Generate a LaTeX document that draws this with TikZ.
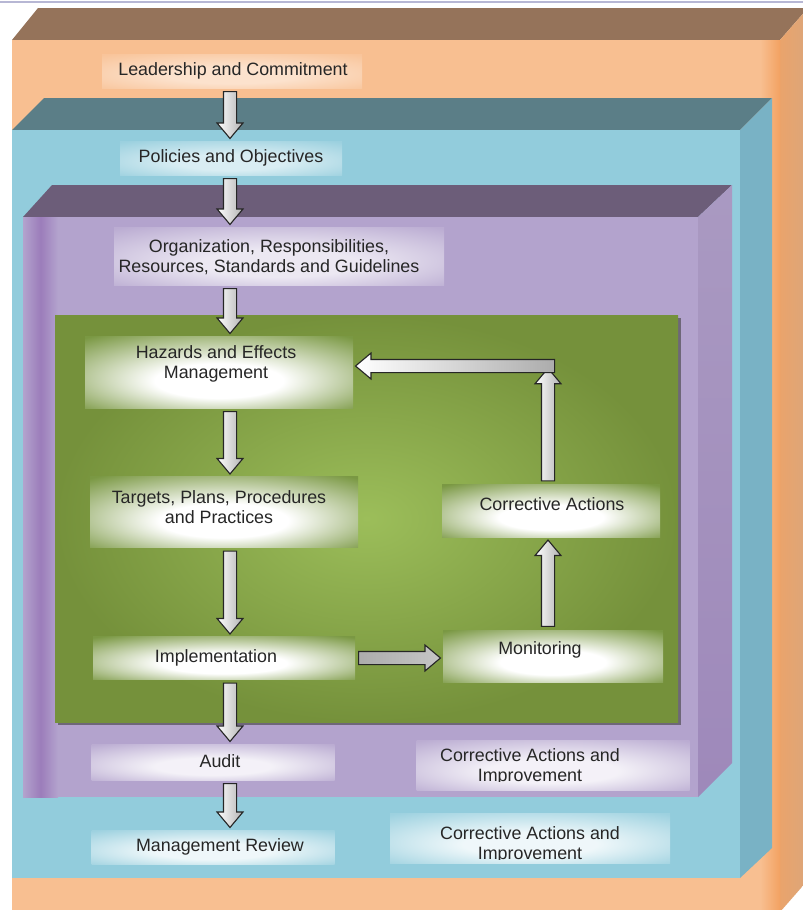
\documentclass[tikz,border=0pt]{standalone}
\usepackage{fontspec}
\newfontfamily\diagfont{Liberation Sans}
\usetikzlibrary{calc, positioning, shapes.arrows, shadows}

\definecolor{orangefront}{HTML}{F8BF91}
\definecolor{orangetop}{HTML}{95735A}
\definecolor{orangeside}{HTML}{DCA67A}
\definecolor{orangestripe}{HTML}{F3A262}
\definecolor{bluefront}{HTML}{92CCDC}
\definecolor{bluetop}{HTML}{5B7E87}
\definecolor{blueside}{HTML}{79B2C5}
\definecolor{purplefront}{HTML}{B3A3CD}
\definecolor{purpletop}{HTML}{6C5D79}
\definecolor{purpleside}{HTML}{A08EBB}
\definecolor{purpleband}{HTML}{9673B6}
\definecolor{greenlight}{HTML}{9CBE5A}
\definecolor{greendark}{HTML}{75913B}
\definecolor{greenedge}{HTML}{7A9843}

\colorlet{haloin}{white}
\colorlet{haloout}{white}
\pgfdeclareradialshading[haloin,haloout]{halo}{\pgfpoint{0bp}{-8bp}}{color(0bp)=(haloin); color(12bp)=(haloin); color(36bp)=(haloout); color(50bp)=(haloout)}

\tikzset{
  halo/.style 2 args={shade, shading=halo, /utils/exec={\colorlet{haloin}{#1}\colorlet{haloout}{#2}}, inner sep=0pt},
  box size/.style 2 args={minimum width=#1*0.025cm, minimum height=#2*0.025cm},
  lbl/.style={font=\diagfont\fontsize{12.7}{14.4}\selectfont, align=center, text=black!85, inner sep=0pt},
  flow arrow/.style={single arrow, draw=black!85, line width=0.8pt, inner xsep=0pt, inner ysep=0.15cm,
    single arrow head extend=0.16cm, single arrow tip angle=80},
  shade across/.style={left color=white, right color=gray!60},
  shade along/.style={left color=white, right color=gray!65},
  shade mid/.style={left color=gray!65, middle color=white, right color=gray!45}
}

% block arrow from one point to another
\newcommand{\flowarrow}[3][]{%
  \path let \p1=($(#2)!2pt!(#3)$), \p2=($(#3)!2pt!(#2)$),
            \n1={atan2(\y2-\y1,\x2-\x1)}, \n2={veclen(\x2-\x1,\y2-\y1)} in
    node[flow arrow, minimum height=\n2, rotate=\n1, anchor=tail, #1] at (\p1) {};}

\begin{document}
\begin{tikzpicture}[x=0.025cm, y=-0.025cm]
  \useasboundingbox (0,0) rectangle (803,910);
  \clip (0,0) rectangle (803,910);
  \fill[white] (0,0) rectangle (803,910);
  \draw[blue!25!gray!45, line width=1pt] (0,2) -- (803,2);

  % outer layer
  \fill[orangetop] (12,40) -- (38,8) -- (808,8) -- (780,40) -- cycle;
  \shade[left color=orangestripe!60!orangeside, right color=orangeside] (780,40) -- (808,8) -- (808,880) -- (780,912) -- cycle;
  \fill[orangefront] (12,40) rectangle (780,912);
  \shade[left color=orangefront, right color=orangestripe] (760,40) rectangle (780,912);

  % second layer
  \fill[bluetop] (12,130) -- (44,98) -- (772,98) -- (740,130) -- cycle;
  \fill[blueside] (740,130) -- (772,98) -- (772,848) -- (740,878) -- cycle;
  \fill[bluefront] (12,130) rectangle (740,878);

  % third layer
  \fill[purpletop] (23,217) -- (52,185) -- (732,185) -- (698,217) -- cycle;
  \shade[top color=purpleside!90!white, bottom color=purpleside!80!purpleband] (698,217) -- (732,185) -- (732,763) -- (698,797) -- cycle;
  \fill[purplefront] (23,217) rectangle (698,797);
  \shade[left color=purplefront, right color=purplefront, middle color=purpleband!80!purplefront] (23,217) rectangle (58,797);

  % inner layer
  \shade[inner color=greenlight, outer color=greendark,
    drop shadow={shadow xshift=0.08cm, shadow yshift=-0.08cm, opacity=0.6, fill=black!75}]
    (55,315) rectangle (678,722);

  \coordinate (spine) at (230,0);
  \coordinate (rspine) at (548,0);
  \coordinate (turn) at (558,366);

  % glow boxes
  \node[halo={white!55!orangefront}{white!8!orangefront}, box size={260}{34}] (leadbox) at (232,71) {};
  \node[halo={white!65!bluefront}{white!8!bluefront}, box size={222}{34}] (polbox) at (231,158) {};
  \node[halo={white!75!purplefront}{white!10!purplefront}, box size={330}{58}] (orgbox) at (279,256) {};
  \node[halo={white}{greenedge}, box size={268}{72}] (hazbox) at (219,372) {};
  \node[halo={white}{greenedge}, box size={268}{71}] (tgtbox) at (224,512) {};
  \node[halo={white}{greenedge}, box size={262}{43}] (implbox) at (224,658) {};
  \node[halo={white}{greenedge}, box size={218}{53}] (corrbox) at (551,511) {};
  \node[halo={white}{greenedge}, box size={220}{52}] (monbox) at (553,656) {};
  \node[halo={white!85!purplefront}{white!10!purplefront}, box size={243}{36}] (auditbox) at (213,762) {};
  \node[halo={white!85!purplefront}{white!10!purplefront}, box size={273}{50}] (caibox) at (553,765) {};
  \node[halo={white!85!bluefront}{white!10!bluefront}, box size={243}{34}] (mgmtbox) at (213,847) {};
  \node[halo={white!85!bluefront}{white!10!bluefront}, box size={280}{50}] (reviewbox) at (530,838) {};

  % labels
  \node[lbl] (lead) at (233,71) {Leadership and Commitment};
  \node[lbl] (pol) at (231,158) {Policies and Objectives};
  \node[lbl] (org) at (269,257) {Organization, Responsibilities,\\Resources, Standards and Guidelines};
  \node[lbl] (haz) at (216,364) {Hazards and Effects\\Management};
  \node[lbl] (tgt) at (219,507) {Targets, Plans, Procedures\\and Practices};
  \node[lbl] (impl) at (216,658) {Implementation};
  \node[lbl] (corr) at (552,504) {Corrective Actions};
  \node[lbl] (mon) at (540,650) {Monitoring};
  \node[lbl] (audit) at (220,761) {Audit};
  \node[lbl] (mgmt) at (220,847) {Management Review};
  \begin{scope}
    \clip (380,735) rectangle (720,781);
    \node[lbl] (cai) at (530,767) {Corrective Actions and\\Improvement};
  \end{scope}
  \begin{scope}
    \clip (380,810) rectangle (720,859);
    \node[lbl] (review) at (530,845) {Corrective Actions and\\Improvement};
  \end{scope}

  % arrows
  \flowarrow[shade across]{leadbox.south -| spine}{polbox.north -| spine}
  \flowarrow[shade across]{polbox.south -| spine}{orgbox.north -| spine}
  \flowarrow[shade across]{orgbox.south -| spine}{hazbox.north -| spine}
  \flowarrow[shade across]{hazbox.south -| spine}{tgtbox.north -| spine}
  \flowarrow[shade across]{tgtbox.south -| spine}{implbox.north -| spine}
  \flowarrow[shade across]{implbox.south -| spine}{auditbox.north -| spine}
  \flowarrow[shade across]{auditbox.south -| spine}{mgmtbox.north -| spine}
  \flowarrow[shade mid]{implbox.east}{monbox.west |- implbox.east}
  \flowarrow[shade across]{monbox.north -| rspine}{corrbox.south -| rspine}
  \flowarrow[shade across]{corrbox.north -| rspine}{turn -| rspine}
  \flowarrow[shade along]{turn}{hazbox.east |- turn}
\end{tikzpicture}
\end{document}
